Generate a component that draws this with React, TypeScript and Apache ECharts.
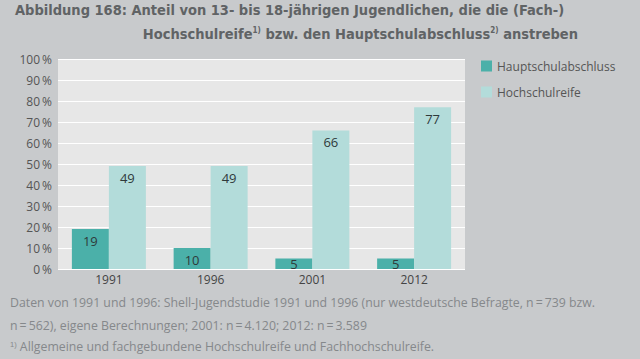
import React, { useEffect, useRef } from "react";
import * as echarts from "echarts";

const years = ["1991", "1996", "2001", "2012"];
const hauptschul = [19, 10, 5, 5];
const hochschul = [49, 49, 66, 77];
const seriesNames = ["Hauptschulabschluss", "Hochschulreife"];
const footnotes = [
  "Daten von 1991 und 1996: Shell-Jugendstudie 1991 und 1996 (nur westdeutsche Befragte, n\u2009=\u2009739 bzw.",
  "n\u2009=\u2009562), eigene Berechnungen; 2001: n\u2009=\u20094.120; 2012: n\u2009=\u20093.589",
];

const FONT = "'Open Sans', 'Noto Sans', sans-serif";
const TITLE_FONT = "'DejaVu Sans Condensed', 'DejaVu Sans', sans-serif";
const FOOT_COLOR = "#85888b";
const TITLE_SIZE = 14.5;

export default function App() {
  const ref = useRef<HTMLDivElement>(null);
  useEffect(() => {
    const chart = echarts.init(ref.current!, null, { renderer: "svg" });
    const labelFor = (v: number) => ({
      value: v,
      label: { position: v < 8 ? "inside" : "insideTop" },
    });
    chart.setOption({
      animation: false,
      backgroundColor: "#c8cacc",
      title: [
        {
          text: "Abbildung 168: Anteil von 13- bis 18-jährigen Jugendlichen, die die (Fach-)",
          left: 10,
          top: -3,
          textStyle: { fontFamily: TITLE_FONT, fontWeight: "bold", fontSize: TITLE_SIZE, color: "#606365" },
        },
        {
          text: "Hochschulreife{sup|1)} bzw. den Hauptschulabschluss{sup|2)} anstreben",
          right: 57,
          top: 21,
          textStyle: {
            fontFamily: TITLE_FONT,
            fontWeight: "bold",
            fontSize: TITLE_SIZE,
            color: "#606365",
            rich: {
              sup: { fontFamily: TITLE_FONT, fontWeight: "bold", fontSize: 8, color: "#606365", verticalAlign: "top", padding: [0, 0, 7, 0] },
            },
          },
        },
      ],
      legend: {
        orient: "vertical",
        left: 476,
        top: 55,
        itemWidth: 11,
        itemHeight: 11,
        itemGap: 14,
        icon: "rect",
        textStyle: { fontFamily: FONT, fontSize: 12, color: "#555" },
        data: seriesNames,
      },
      grid: { left: 58, right: 175, top: 59, bottom: 90, containLabel: false },
      xAxis: {
        type: "category",
        data: years,
        axisLine: { show: false },
        axisTick: { show: false },
        axisLabel: { fontFamily: FONT, fontSize: 12, color: "#444", margin: 4 },
      },
      yAxis: {
        type: "value",
        min: 0,
        max: 100,
        interval: 10,
        axisLine: { show: false },
        axisTick: { show: false },
        splitLine: { lineStyle: { color: "#ffffff", width: 1 } },
        splitArea: { show: false },
        axisLabel: {
          fontFamily: FONT,
          fontSize: 12,
          color: "#555",
          margin: 6,
          formatter: (v: number) => v + "\u2009%",
        },
      },
      graphic: [
        {
          type: "rect",
          shape: { x: 58, y: 59, width: 407, height: 210 },
          style: { fill: "#e7e7e7" },
          z: -10,
          silent: true,
        },
        {
          type: "text",
          left: 10,
          top: 296,
          style: { text: footnotes[0], font: `12.3px ${FONT}`, fill: FOOT_COLOR },
        },
        {
          type: "text",
          left: 10,
          top: 319,
          style: { text: footnotes[1], font: `12.3px ${FONT}`, fill: FOOT_COLOR },
        },
        {
          type: "text",
          left: 10,
          top: 340,
          style: {
            text: "{sup|1)} Allgemeine und fachgebundene Hochschulreife und Fachhochschulreife.",
            font: `12.3px ${FONT}`,
            fill: FOOT_COLOR,
            rich: { sup: { fontSize: 7.5, fill: FOOT_COLOR, verticalAlign: "top", padding: [0, 0, 5, 0] } },
          },
        },
      ],
      series: [
        {
          name: seriesNames[0],
          type: "bar",
          barWidth: 37,
          barGap: "0%",
          itemStyle: { color: "#4bb0a9" },
          label: { show: true, position: "insideTop", distance: 5, fontFamily: FONT, fontSize: 13, color: "#2f3a3a" },
          data: hauptschul.map(labelFor),
        },
        {
          name: seriesNames[1],
          type: "bar",
          barWidth: 37,
          barGap: "0%",
          itemStyle: { color: "#b3dcda" },
          label: { show: true, position: "insideTop", distance: 5, fontFamily: FONT, fontSize: 13, color: "#2f3a3a" },
          data: hochschul.map(labelFor),
        },
      ],
    });
    return () => chart.dispose();
  }, []);
  return (
    <div
      ref={ref}
      style={{ position: "fixed", left: 0, top: 0, width: 640, height: 359 }}
    />
  );
}
